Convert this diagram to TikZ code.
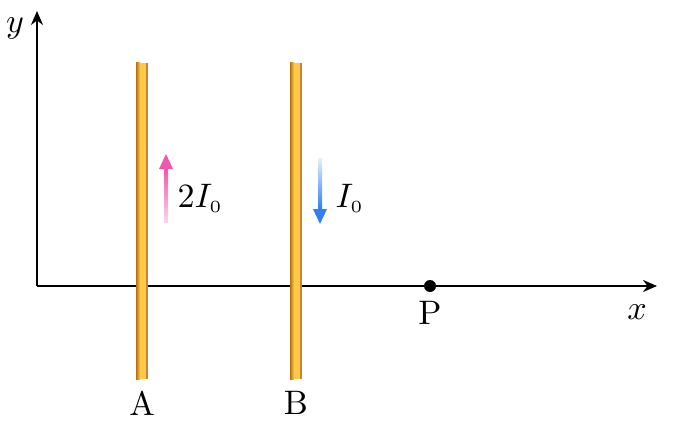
\documentclass[tikz,border=0pt]{standalone}
\usepackage{tikz}
\usetikzlibrary{arrows.meta, calc}

\definecolor{wirecore}{RGB}{255,201,72}
\definecolor{wireedge}{RGB}{186,112,18}
\definecolor{pinkcur}{RGB}{240,88,172}
\definecolor{bluecur}{RGB}{48,128,240}

\tikzset{
	axis/.style={line width=1pt, -{Stealth[length=7pt, width=6pt]}},
	lbl/.style={scale=1.7, inner sep=0pt},
}

\begin{document}
\begin{tikzpicture}[x=0.5pt, y=0.5pt]
	\def \wirehw {6}
	\def \wirebot {50}
	\def \wiretop {366}
	\useasboundingbox (0,0) rectangle (684,429);

	\coordinate (origin) at (37,143);
	\coordinate (xend)   at (657,143);
	\coordinate (yend)   at (37,418);
	\coordinate (P)      at (430,143);

	% axes
	\draw[axis] (origin) -- (xend);
	\draw[axis] (origin) -- (yend);
	\node[lbl] (ylabel) at (15,401) {$y$};
	\node[lbl] (xlabel) at (637,117) {$x$};

	% wires
	\foreach \wx/\wname in {142/A, 296/B} {
		\fill[wirecore] (\wx-\wirehw,\wirebot) rectangle (\wx+\wirehw,\wiretop);
		\shade[left color=wireedge, right color=wirecore]
			(\wx-\wirehw,\wirebot) rectangle (\wx-\wirehw+4,\wiretop);
		\fill[wireedge!85] (\wx+\wirehw-2,\wirebot) rectangle (\wx+\wirehw,\wiretop);
		\node[lbl] (label\wname) at (\wx,26) {\wname};
	}

	% currents
	\shade[bottom color=pinkcur!25, top color=pinkcur] (164,207) rectangle (168,260);
	\fill[pinkcur] (159,260) -- (173,260) -- (166,275) -- cycle;
	\node[lbl, anchor=west] (curA) at (177,231) {$2I_{\scriptscriptstyle 0}$};

	\shade[top color=bluecur!12, bottom color=bluecur] (318,220) rectangle (322,271);
	\fill[bluecur] (313,220) -- (327,220) -- (320,205) -- cycle;
	\node[lbl, anchor=west] (curB) at (335,231) {$I_{\scriptscriptstyle 0}$};

	% point P
	\fill (P) circle (6);
	\node[lbl] (labelP) at (430,116) {P};
\end{tikzpicture}
\end{document}
